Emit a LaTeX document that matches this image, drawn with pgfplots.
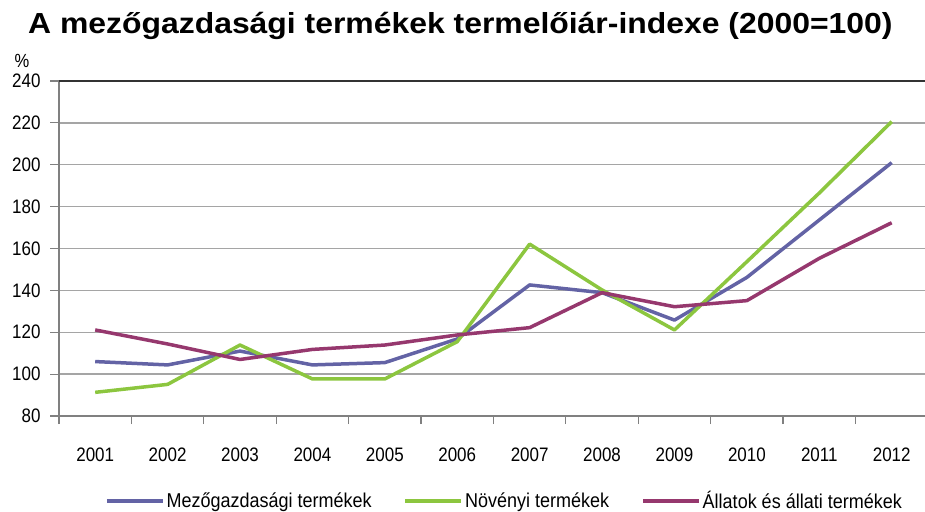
\documentclass[border=0pt]{standalone}
\usepackage{fontspec}
\setmainfont{Liberation Sans}
\newfontfamily\titlefont[FakeStretch=1.1]{Liberation Sans Bold}
\newfontfamily\ticksfont[FakeStretch=0.87]{Liberation Sans}
\newfontfamily\legfont[FakeStretch=0.9]{Liberation Sans}
\usepackage{pgfplots}
\pgfplotsset{compat=1.18}
\definecolor{cMez}{RGB}{99,99,165}
\definecolor{cNov}{RGB}{140,198,63}
\definecolor{cAll}{RGB}{150,56,110}
\definecolor{gridgray}{RGB}{165,165,165}
\definecolor{axisgray}{RGB}{128,128,128}
\begin{document}
\begin{tikzpicture}
\begin{axis}[
  at={(0,0)}, anchor=south west,
  scale only axis, width=866bp, height=335bp,
  xmin=-0.5, xmax=11.46, ymin=80, ymax=240,
  axis x line*=bottom, axis y line*=left,
  axis line style={-, draw=axisgray, line width=1.5bp},
  ytick={80,100,...,220}, extra y ticks={240},
  ymajorgrids, grid style={draw=gridgray, line width=1.5bp},
  extra y tick style={grid style={draw=black!80, line width=1.5bp}},
  xtick={0,...,11},
  xticklabels={2001,2002,2003,2004,2005,2006,2007,2008,2009,2010,2011,2012},
  minor xtick={-0.5,0.5,...,10.5},
  tick align=outside, major tick length=9bp, minor tick length=8bp,
  major x tick style={draw=none},
  minor x tick style={draw=axisgray, line width=1.2bp},
  major y tick style={draw=axisgray, line width=1.2bp},
  ticklabel style={font=\ticksfont\fontsize{19.5bp}{21bp}\selectfont},
  yticklabel style={xshift=-6bp},
  xticklabel style={yshift=-19bp},
  /pgf/number format/assume math mode=true,
  legend style={at={(0.5144,-0.253)}, anchor=center, draw=none, fill=none,
    legend columns=3, font=\legfont\fontsize{20bp}{22bp}\selectfont,
    /tikz/every even column/.append style={column sep=30bp}},
  legend image code/.code={\draw[#1] (0bp,0bp) -- (56bp,0bp);},
  every axis plot/.append style={line width=3.5bp, line join=round},
]
\addplot[cMez] coordinates {(0,106) (1,104.4) (2,111) (3,104.4) (4,105.5) (5,116.8) (6,142.6) (7,138.9) (8,125.8) (9,146.2) (10,173.6) (11,201.0)};
\addlegendentry{Mezőgazdasági termékek}
\addplot[cNov] coordinates {(0,91.3) (1,95.1) (2,113.9) (3,97.7) (4,97.7) (5,115.5) (6,162.1) (7,140.2) (8,121.1) (9,153.7) (10,186.5) (11,220.6)};
\addlegendentry{Növényi termékek}
\addplot[cAll] coordinates {(0,121.1) (1,114.4) (2,107) (3,111.8) (4,113.9) (5,118.7) (6,122.2) (7,138.9) (8,132.2) (9,135.1) (10,155.3) (11,172.3)};
\addlegendentry{Állatok és állati termékek}
\end{axis}
\node[anchor=base west, font=\fontsize{29bp}{32bp}\selectfont\titlefont, inner sep=0pt] at (-31bp,382bp) {A mezőgazdasági termékek termelőiár-indexe (2000=100)};
\node[font=\ticksfont\fontsize{19bp}{20bp}\selectfont, inner sep=0pt] at (-37bp,355bp) {\%};
\pgfresetboundingbox
\path[use as bounding box] (-59bp,-96bp) rectangle (866bp,416bp);
\end{tikzpicture}
\end{document}
